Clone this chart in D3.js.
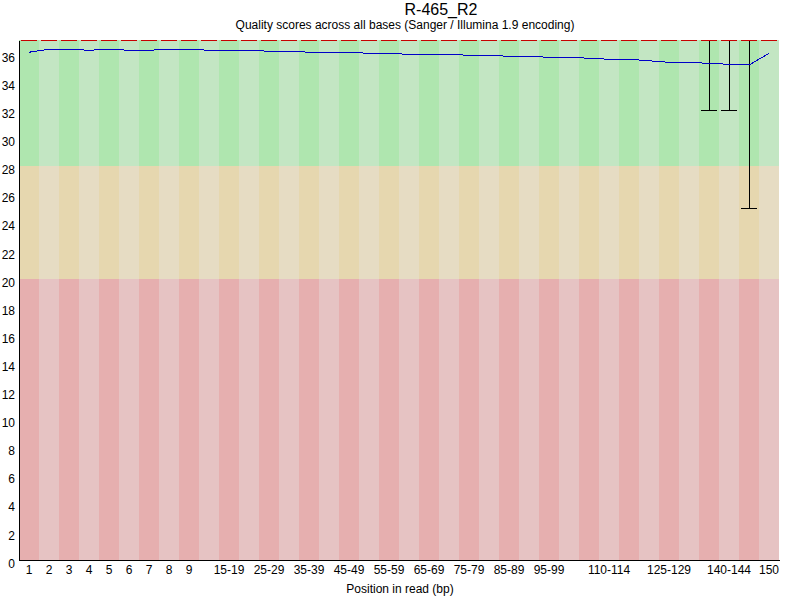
<!DOCTYPE html>
<html>
<head>
<meta charset="utf-8">
<script src="https://cdn.jsdelivr.net/npm/d3@7"></script>
<style>
  body { margin: 0; background: #fff; }
  svg { display: block; }
  text { font-family: "Liberation Sans", Arial, sans-serif; fill: #000; }
</style>
</head>
<body>
<div id="chart"></div>
<script>
// base positions (FastQC groups)
const positions = ["1", "2", "3", "4", "5", "6", "7", "8", "9",
  "10-14", "15-19", "20-24", "25-29", "30-34", "35-39", "40-44", "45-49",
  "50-54", "55-59", "60-64", "65-69", "70-74", "75-79", "80-84", "85-89",
  "90-94", "95-99", "100-104", "105-109", "110-114", "115-119", "120-124",
  "125-129", "130-134", "135-139", "140-144", "145-149", "150"];

// labels that are printed under the axis
const tickLabels = ["1", "2", "3", "4", "5", "6", "7", "8", "9",
  "15-19", "25-29", "35-39", "45-49", "55-59", "65-69", "75-79", "85-89",
  "95-99", "110-114", "125-129", "140-144", "150"];

const meanQ = [36.13, 36.34, 36.34, 36.27, 36.34, 36.27, 36.27, 36.34, 36.34,
  36.27, 36.27, 36.27, 36.20, 36.20, 36.13, 36.13, 36.13, 36.05, 36.05,
  35.98, 35.98, 35.98, 35.91, 35.91, 35.84, 35.84, 35.77, 35.77, 35.70,
  35.63, 35.63, 35.52, 35.41, 35.41, 35.34, 35.27, 35.22, 36.05];

const medianQ = [37, 37, 37, 37, 37, 37, 37, 37, 37, 37, 37, 37, 37, 37, 37, 37, 37, 37, 37,
  37, 37, 37, 37, 37, 37, 37, 37, 37, 37, 37, 37, 37, 37, 37, 37, 37, 37, 37];
const lowerQuartile = [37, 37, 37, 37, 37, 37, 37, 37, 37, 37, 37, 37, 37, 37, 37, 37, 37, 37, 37,
  37, 37, 37, 37, 37, 37, 37, 37, 37, 37, 37, 37, 37, 37, 37, 37, 37, 37, 37];
const upperQuartile = [37, 37, 37, 37, 37, 37, 37, 37, 37, 37, 37, 37, 37, 37, 37, 37, 37, 37, 37,
  37, 37, 37, 37, 37, 37, 37, 37, 37, 37, 37, 37, 37, 37, 37, 37, 37, 37, 37];
const p10 = [37, 37, 37, 37, 37, 37, 37, 37, 37, 37, 37, 37, 37, 37, 37, 37, 37, 37, 37,
  37, 37, 37, 37, 37, 37, 37, 37, 37, 37, 37, 37, 37, 37, 37, 32, 32, 25, 37];
const p90 = [37, 37, 37, 37, 37, 37, 37, 37, 37, 37, 37, 37, 37, 37, 37, 37, 37, 37, 37,
  37, 37, 37, 37, 37, 37, 37, 37, 37, 37, 37, 37, 37, 37, 37, 37, 37, 37, 37];

const yTicks = [0, 2, 4, 6, 8, 10, 12, 14, 16, 18, 20, 22, 24, 26, 28, 30, 32, 34, 36];

const zones = [
  { from: 28, to: 37, colours: ["rgb(175,230,175)", "rgb(195,230,195)"] },
  { from: 20, to: 28, colours: ["rgb(230,215,175)", "rgb(230,220,195)"] },
  { from: 0, to: 20, colours: ["rgb(230,175,175)", "rgb(230,195,195)"] }
];

const width = 800, height = 600;
const margins = { top: 40, right: 21, bottom: 40, left: 19 };

const svg = d3.select("#chart").append("svg")
  .attr("width", width)
  .attr("height", height);

const x = d3.scaleBand()
  .domain(positions)
  .range([margins.left, width - margins.right]);

const y = d3.scaleLinear()
  .domain([0, 37])
  .range([height - margins.bottom, margins.top]);

const bw = x.bandwidth();
const cx = d => x(d) + bw / 2;

// background stripes
const bg = svg.append("g").attr("shape-rendering", "crispEdges");
zones.forEach(z => {
  bg.append("g").selectAll("rect")
    .data(positions)
    .join("rect")
    .attr("x", d => x(d))
    .attr("width", bw)
    .attr("y", y(z.to))
    .attr("height", y(z.from) - y(z.to))
    .attr("fill", (d, i) => z.colours[i % 2]);
});

const rows = positions.map((p, i) => ({
  pos: p, mean: meanQ[i], median: medianQ[i],
  lq: lowerQuartile[i], uq: upperQuartile[i], lo: p10[i], hi: p90[i]
}));

const box = svg.append("g").attr("shape-rendering", "crispEdges");

// whiskers
box.selectAll(".whiskerLow")
  .data(rows.filter(d => d.lo < d.lq))
  .join("line")
  .attr("x1", d => cx(d.pos)).attr("x2", d => cx(d.pos))
  .attr("y1", d => y(d.lq)).attr("y2", d => y(d.lo))
  .attr("stroke", "#000");
box.selectAll(".capLow")
  .data(rows.filter(d => d.lo < d.lq))
  .join("line")
  .attr("x1", d => x(d.pos) + 2).attr("x2", d => x(d.pos) + bw - 2)
  .attr("y1", d => y(d.lo)).attr("y2", d => y(d.lo))
  .attr("stroke", "#000");
box.selectAll(".whiskerHigh")
  .data(rows.filter(d => d.hi > d.uq))
  .join("line")
  .attr("x1", d => cx(d.pos)).attr("x2", d => cx(d.pos))
  .attr("y1", d => y(d.hi)).attr("y2", d => y(d.uq))
  .attr("stroke", "#000");

// quartile boxes
box.selectAll(".iqr")
  .data(rows.filter(d => d.uq > d.lq))
  .join("rect")
  .attr("x", d => x(d.pos) + 2)
  .attr("width", bw - 4)
  .attr("y", d => y(d.uq))
  .attr("height", d => y(d.lq) - y(d.uq))
  .attr("fill", "rgb(240,240,0)")
  .attr("stroke", "#000");

// median segments
box.selectAll(".median")
  .data(rows)
  .join("line")
  .attr("x1", d => x(d.pos) + 2).attr("x2", d => x(d.pos) + bw - 2)
  .attr("y1", d => y(d.median) + 0.5).attr("y2", d => y(d.median) + 0.5)
  .attr("stroke", "rgb(200,0,0)");

// mean line
svg.append("path")
  .datum(rows)
  .attr("fill", "none")
  .attr("stroke", "rgb(0,0,200)")
  .attr("stroke-width", 1)
  .attr("shape-rendering", "crispEdges")
  .attr("d", d3.line().x(d => cx(d.pos)).y(d => y(d.mean)));

// axes
const yAxis = svg.append("g")
  .attr("transform", `translate(${margins.left},0)`)
  .call(d3.axisLeft(y).tickValues(yTicks).tickSize(0).tickPadding(4));
yAxis.select(".domain").attr("stroke", "#000").attr("shape-rendering", "crispEdges");
yAxis.selectAll("text").attr("font-size", 12).attr("dy", "0.6em")
  .style("font-family", '"Liberation Sans", Arial, sans-serif');

const xAxis = svg.append("g")
  .attr("transform", `translate(0,${height - margins.bottom})`)
  .call(d3.axisBottom(x).tickValues(tickLabels).tickSize(0).tickPadding(5).tickSizeOuter(0));
xAxis.select(".domain")
  .attr("d", `M${margins.left},0.5H${width - 20}`)
  .attr("stroke", "#000").attr("shape-rendering", "crispEdges");
xAxis.selectAll("text").attr("font-size", 12).attr("dy", "0.71em")
  .style("font-family", '"Liberation Sans", Arial, sans-serif');

// titles
svg.append("text")
  .attr("x", 441).attr("y", 14.5)
  .attr("text-anchor", "middle")
  .attr("font-size", 16)
  .text("R-465_R2");

svg.append("text")
  .attr("x", 405).attr("y", 29)
  .attr("text-anchor", "middle")
  .attr("font-size", 12)
  .text("Quality scores across all bases (Sanger / Illumina 1.9 encoding)");

svg.append("text")
  .attr("x", 400).attr("y", 593)
  .attr("text-anchor", "middle")
  .attr("font-size", 12)
  .text("Position in read (bp)");
</script>
</body>
</html>
